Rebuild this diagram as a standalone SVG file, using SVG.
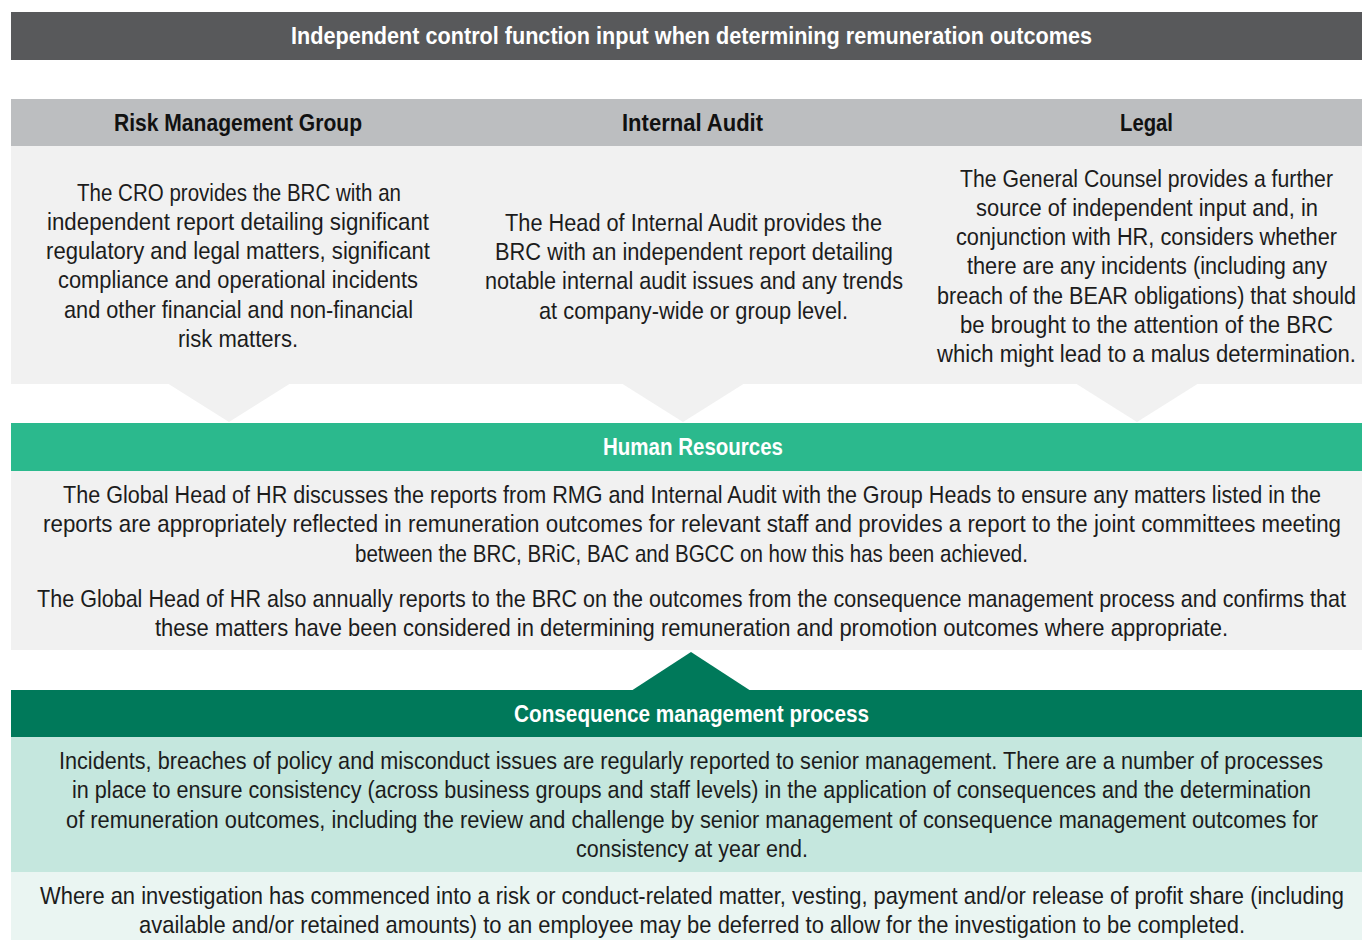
<svg xmlns="http://www.w3.org/2000/svg" width="1362" height="940" viewBox="0 0 1362 940">
<style>
text{font-family:"Liberation Sans",Arial,sans-serif;text-anchor:middle}
.b{font-size:24px;fill:#1c1c1c}
.h{font-size:23px;font-weight:bold}
.w{fill:#ffffff}
.k{fill:#111111}
.gray{fill:#f1f1f1}
</style>
<rect width="1362" height="940" fill="#ffffff"/>
<g id="title">
<rect x="11" y="12" width="1351" height="48" fill="#58595b"/>
<text class="h w" transform="translate(691.5 0) scale(0.84 1)" x="0" y="44" textLength="953.6" lengthAdjust="spacingAndGlyphs">Independent control function input when determining remuneration outcomes</text>
</g>
<g id="columns-header">
<rect x="11" y="99" width="1351" height="47" fill="#bcbec0"/>
</g>
<g id="rmg">
<rect class="gray" x="11" y="146" width="454" height="238"/>
<text class="h k" transform="translate(238 0) scale(0.84 1)" x="0" y="131" textLength="295.2" lengthAdjust="spacingAndGlyphs">Risk Management Group</text>
<text class="b" transform="translate(239 0) scale(0.84 1)" x="0" y="201" textLength="385.7" lengthAdjust="spacingAndGlyphs">The CRO provides the BRC with an</text>
<text class="b" transform="translate(238 0) scale(0.84 1)" x="0" y="230" textLength="454.8" lengthAdjust="spacingAndGlyphs">independent report detailing significant</text>
<text class="b" transform="translate(238 0) scale(0.84 1)" x="0" y="259" textLength="457.1" lengthAdjust="spacingAndGlyphs">regulatory and legal matters, significant</text>
<text class="b" transform="translate(238 0) scale(0.84 1)" x="0" y="288" textLength="428.6" lengthAdjust="spacingAndGlyphs">compliance and operational incidents</text>
<text class="b" transform="translate(238.5 0) scale(0.84 1)" x="0" y="318" textLength="415.5" lengthAdjust="spacingAndGlyphs">and other financial and non-financial</text>
<text class="b" transform="translate(238 0) scale(0.84 1)" x="0" y="347" textLength="142.9" lengthAdjust="spacingAndGlyphs">risk matters.</text>
</g>
<g id="internal-audit">
<rect class="gray" x="465" y="146" width="454" height="238"/>
<text class="h k" transform="translate(692.5 0) scale(0.84 1)" x="0" y="131" textLength="167.9" lengthAdjust="spacingAndGlyphs">Internal Audit</text>
<text class="b" transform="translate(693.5 0) scale(0.84 1)" x="0" y="231" textLength="448.8" lengthAdjust="spacingAndGlyphs">The Head of Internal Audit provides the</text>
<text class="b" transform="translate(694 0) scale(0.84 1)" x="0" y="260" textLength="473.8" lengthAdjust="spacingAndGlyphs">BRC with an independent report detailing</text>
<text class="b" transform="translate(694 0) scale(0.84 1)" x="0" y="289" textLength="497.6" lengthAdjust="spacingAndGlyphs">notable internal audit issues and any trends</text>
<text class="b" transform="translate(693.5 0) scale(0.84 1)" x="0" y="319" textLength="367.9" lengthAdjust="spacingAndGlyphs">at company-wide or group level.</text>
</g>
<g id="legal">
<rect class="gray" x="919" y="146" width="443" height="238"/>
<text class="h k" transform="translate(1146.5 0) scale(0.84 1)" x="0" y="131" textLength="63.1" lengthAdjust="spacingAndGlyphs">Legal</text>
<text class="b" transform="translate(1146.5 0) scale(0.84 1)" x="0" y="187" textLength="444" lengthAdjust="spacingAndGlyphs">The General Counsel provides a further</text>
<text class="b" transform="translate(1147 0) scale(0.84 1)" x="0" y="216" textLength="407.1" lengthAdjust="spacingAndGlyphs">source of independent input and, in</text>
<text class="b" transform="translate(1146.5 0) scale(0.84 1)" x="0" y="245" textLength="453.6" lengthAdjust="spacingAndGlyphs">conjunction with HR, considers whether</text>
<text class="b" transform="translate(1147 0) scale(0.84 1)" x="0" y="274" textLength="428.6" lengthAdjust="spacingAndGlyphs">there are any incidents (including any</text>
<text class="b" transform="translate(1146.5 0) scale(0.84 1)" x="0" y="304" textLength="498.8" lengthAdjust="spacingAndGlyphs">breach of the BEAR obligations) that should</text>
<text class="b" transform="translate(1146.5 0) scale(0.84 1)" x="0" y="333" textLength="444" lengthAdjust="spacingAndGlyphs">be brought to the attention of the BRC</text>
<text class="b" transform="translate(1146.5 0) scale(0.84 1)" x="0" y="362" textLength="498.8" lengthAdjust="spacingAndGlyphs">which might lead to a malus determination.</text>
</g>
<g id="connectors">
<polygon class="gray" points="167,383 291,383 229,422"/>
<polygon class="gray" points="621,383 745,383 683,422"/>
<polygon class="gray" points="1075,383 1199,383 1137,422"/>
<polygon fill="#00795a" points="631,691 751,691 691,652"/>
</g>
<g id="human-resources">
<rect x="11" y="423" width="1351" height="48" fill="#2bb98d"/>
<text class="h w" transform="translate(693 0) scale(0.84 1)" x="0" y="455" textLength="214.3" lengthAdjust="spacingAndGlyphs">Human Resources</text>
<rect class="gray" x="11" y="471" width="1351" height="179"/>
<text class="b" transform="translate(692 0) scale(0.84 1)" x="0" y="503" textLength="1497.6" lengthAdjust="spacingAndGlyphs">The Global Head of HR discusses the reports from RMG and Internal Audit with the Group Heads to ensure any matters listed in the</text>
<text class="b" transform="translate(692 0) scale(0.84 1)" x="0" y="532" textLength="1545.2" lengthAdjust="spacingAndGlyphs">reports are appropriately reflected in remuneration outcomes for relevant staff and provides a report to the joint committees meeting</text>
<text class="b" transform="translate(691.5 0) scale(0.84 1)" x="0" y="562" textLength="801.2" lengthAdjust="spacingAndGlyphs">between the BRC, BRiC, BAC and BGCC on how this has been achieved.</text>
<text class="b" transform="translate(691.5 0) scale(0.84 1)" x="0" y="607" textLength="1558.3" lengthAdjust="spacingAndGlyphs">The Global Head of HR also annually reports to the BRC on the outcomes from the consequence management process and confirms that</text>
<text class="b" transform="translate(691.5 0) scale(0.84 1)" x="0" y="636" textLength="1277.4" lengthAdjust="spacingAndGlyphs">these matters have been considered in determining remuneration and promotion outcomes where appropriate.</text>
</g>
<g id="consequence-management">
<rect x="11" y="690" width="1351" height="47" fill="#00795a"/>
<text class="h w" transform="translate(691.5 0) scale(0.84 1)" x="0" y="722" textLength="422.6" lengthAdjust="spacingAndGlyphs">Consequence management process</text>
<rect x="11" y="737" width="1351" height="135" fill="#c5e7de"/>
<rect x="11" y="872" width="1351" height="68" fill="#eaf5f2"/>
<text class="b" transform="translate(691 0) scale(0.84 1)" x="0" y="769" textLength="1504.8" lengthAdjust="spacingAndGlyphs">Incidents, breaches of policy and misconduct issues are regularly reported to senior management. There are a number of processes</text>
<text class="b" transform="translate(691.5 0) scale(0.84 1)" x="0" y="798" textLength="1475" lengthAdjust="spacingAndGlyphs">in place to ensure consistency (across business groups and staff levels) in the application of consequences and the determination</text>
<text class="b" transform="translate(692 0) scale(0.84 1)" x="0" y="828" textLength="1490.5" lengthAdjust="spacingAndGlyphs">of remuneration outcomes, including the review and challenge by senior management of consequence management outcomes for</text>
<text class="b" transform="translate(692 0) scale(0.84 1)" x="0" y="857" textLength="276.2" lengthAdjust="spacingAndGlyphs">consistency at year end.</text>
<text class="b" transform="translate(692 0) scale(0.84 1)" x="0" y="904" textLength="1552.4" lengthAdjust="spacingAndGlyphs">Where an investigation has commenced into a risk or conduct-related matter, vesting, payment and/or release of profit share (including</text>
<text class="b" transform="translate(692 0) scale(0.84 1)" x="0" y="933" textLength="1316.7" lengthAdjust="spacingAndGlyphs">available and/or retained amounts) to an employee may be deferred to allow for the investigation to be completed.</text>
</g>
</svg>
